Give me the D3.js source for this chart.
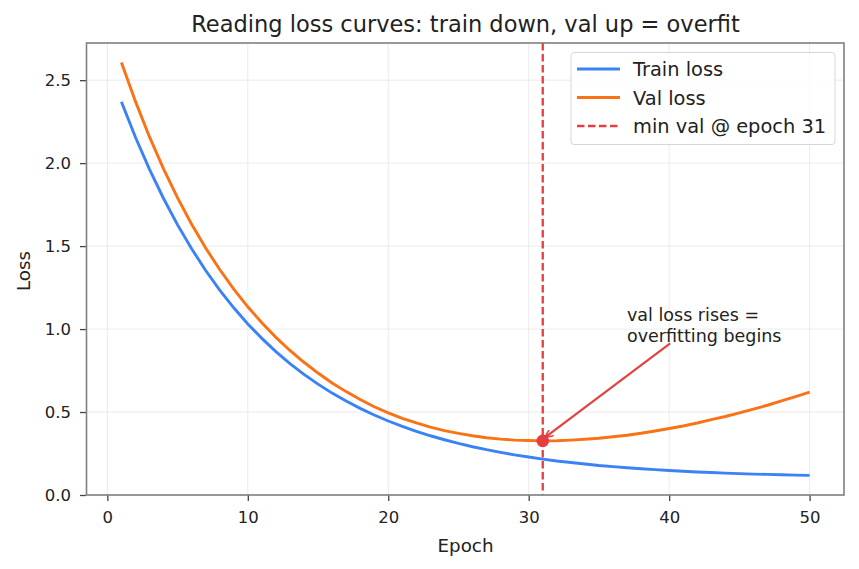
<!DOCTYPE html>
<html><head><meta charset="utf-8">
<script src="https://cdn.jsdelivr.net/npm/d3@7"></script>
<style>body{margin:0;background:#fff;font-family:"DejaVu Sans",sans-serif;}</style>
</head><body><svg id="c" width="859" height="569"></svg>
<script>
const epochs = d3.range(1, 51);
const trainLoss = [2.370,2.156,1.962,1.787,1.628,1.484,1.353,1.235,1.128,1.031,
  0.944,0.864,0.792,0.727,0.668,0.614,0.566,0.522,0.482,0.446,
  0.413,0.384,0.357,0.333,0.311,0.291,0.273,0.257,0.242,0.229,
  0.216,0.205,0.196,0.187,0.178,0.171,0.164,0.158,0.153,0.148,
  0.143,0.139,0.136,0.132,0.129,0.126,0.124,0.122,0.120,0.118];
const valLoss = [2.607,2.372,2.158,1.966,1.791,1.632,1.488,1.359,1.241,1.134,
  1.038,0.950,0.871,0.800,0.735,0.675,0.623,0.575,0.532,0.495,
  0.462,0.434,0.409,0.388,0.371,0.357,0.345,0.337,0.331,0.328,
  0.326,0.327,0.331,0.336,0.342,0.351,0.360,0.372,0.386,0.401,
  0.416,0.434,0.454,0.473,0.495,0.517,0.541,0.567,0.593,0.620];
const xTicks = [0,10,20,30,40,50];
const yTicks = [0.0,0.5,1.0,1.5,2.0,2.5];
const minEpoch = 31;
const legendLabels = ["Train loss","Val loss","min val @ epoch 31"];
const titleText = "Reading loss curves: train down, val up = overfit";
const annotLines = ["val loss rises =","overfitting begins"];
const annotEpoch = 40, annotVal = 0.95;

const C = {train:"#3b82f6", val:"#f97316", red:"#e53e3e"};
const m = {l:87, t:43, r:844, b:495};
const svg = d3.select("#c");
const x = d3.scaleLinear().domain([-1.45, 52.45]).range([m.l, m.r]);
const y = d3.scaleLinear().domain([0, 2.724]).range([m.b, m.t]);

// grid
const g = svg.append("g");
g.selectAll(".gx").data(xTicks).join("line").attr("x1",d=>x(d)).attr("x2",d=>x(d))
  .attr("y1",m.t).attr("y2",m.b).attr("stroke","#e6e6e6").attr("stroke-width",0.8);
g.selectAll(".gy").data(yTicks).join("line").attr("y1",d=>y(d)).attr("y2",d=>y(d))
  .attr("x1",m.l).attr("x2",m.r).attr("stroke","#e6e6e6").attr("stroke-width",0.8);

// axes
const xa = svg.append("g").attr("transform",`translate(0,${m.b})`)
  .call(d3.axisBottom(x).tickValues(xTicks).tickFormat(d3.format("d")).tickSize(6).tickPadding(10));
const ya = svg.append("g").attr("transform",`translate(${m.l-1},0)`)
  .call(d3.axisLeft(y).tickValues(yTicks).tickFormat(d3.format(".1f")).tickSize(6).tickPadding(9));
[xa,ya].forEach(a=>{
  a.select(".domain").remove();
  a.selectAll(".tick line").attr("stroke","#444").attr("stroke-width",1.3);
  a.selectAll(".tick text").attr("fill","#222").style("font-size","16.5px").style("font-family","DejaVu Sans");
});

// lines
const line = d3.line().x((d,i)=>x(epochs[i])).y(d=>y(d));
svg.append("path").datum(trainLoss).attr("d",line).attr("fill","none")
  .attr("stroke",C.train).attr("stroke-width",2.9);
svg.append("path").datum(valLoss).attr("d",line).attr("fill","none")
  .attr("stroke",C.val).attr("stroke-width",2.9);

// vline
svg.append("line").attr("x1",x(minEpoch)).attr("x2",x(minEpoch)).attr("y1",m.t).attr("y2",m.b)
  .attr("stroke",C.red).attr("stroke-width",2.3).attr("stroke-dasharray","7.5,3.5");

// min point
svg.append("circle").attr("cx",x(minEpoch)).attr("cy",y(valLoss[minEpoch-1])).attr("r",6.3).attr("fill",C.red);

// annotation
const defs = svg.append("defs");
defs.append("marker").attr("id","ah").attr("viewBox","0 0 10 10").attr("refX",9).attr("refY",5)
  .attr("markerWidth",8).attr("markerHeight",8).attr("markerUnits","userSpaceOnUse").attr("orient","auto")
  .append("path").attr("d","M0,0 L10,5 L0,10").attr("fill","none").attr("stroke",C.red).attr("stroke-width",2);
const ax0 = x(annotEpoch)+1, ay0 = y(annotVal)+6;
const ax1 = x(minEpoch)+3, ay1 = y(valLoss[minEpoch-1])-4;
svg.append("line").attr("x1",ax0).attr("y1",ay0).attr("x2",ax1).attr("y2",ay1)
  .attr("stroke",C.red).attr("stroke-width",2.1).attr("marker-end","url(#ah)");
const at = svg.append("text").attr("x",x(37)).attr("y",321).attr("fill","#222")
  .style("font-size","17.5px").style("font-family","DejaVu Sans");
annotLines.forEach((s,i)=>at.append("tspan").attr("x",x(37)).attr("dy",i?21:0).text(s));

// frame
svg.append("rect").attr("x",m.l-0.5).attr("y",m.t).attr("width",m.r-m.l+0.5).attr("height",m.b-m.t)
  .attr("fill","none").attr("stroke","#808080").attr("stroke-width",1.6);

// legend
const lg = svg.append("g");
lg.append("rect").attr("x",571).attr("y",52.5).attr("width",264).attr("height",92).attr("rx",3)
  .attr("fill","#fff").attr("fill-opacity",0.85).attr("stroke","#d6d6d6").attr("stroke-width",1);
const lstyles = [{c:C.train,d:null},{c:C.val,d:null},{c:C.red,d:"7.5,3.5"}];
legendLabels.forEach((s,i)=>{
  const yy = 69 + i*28.5;
  lg.append("line").attr("x1",577).attr("x2",620).attr("y1",yy).attr("y2",yy)
    .attr("stroke",lstyles[i].c).attr("stroke-width",i==2?2.3:2.9).attr("stroke-dasharray",lstyles[i].d);
  lg.append("text").attr("x",633).attr("y",yy+7).text(s).attr("fill","#222")
    .style("font-size","19.4px").style("font-family","DejaVu Sans");
});

// titles
svg.append("text").attr("x",(m.l+m.r)/2).attr("y",32).attr("text-anchor","middle").text(titleText)
  .attr("fill","#222").style("font-size","22.5px").style("font-family","DejaVu Sans");
svg.append("text").attr("x",(m.l+m.r)/2).attr("y",552).attr("text-anchor","middle").text("Epoch")
  .attr("fill","#222").style("font-size","18.3px").style("font-family","DejaVu Sans");
svg.append("text").attr("transform",`translate(30,${(m.t+m.b)/2+2}) rotate(-90)`).attr("text-anchor","middle").text("Loss")
  .attr("fill","#222").style("font-size","18.3px").style("font-family","DejaVu Sans");
</script></body></html>
